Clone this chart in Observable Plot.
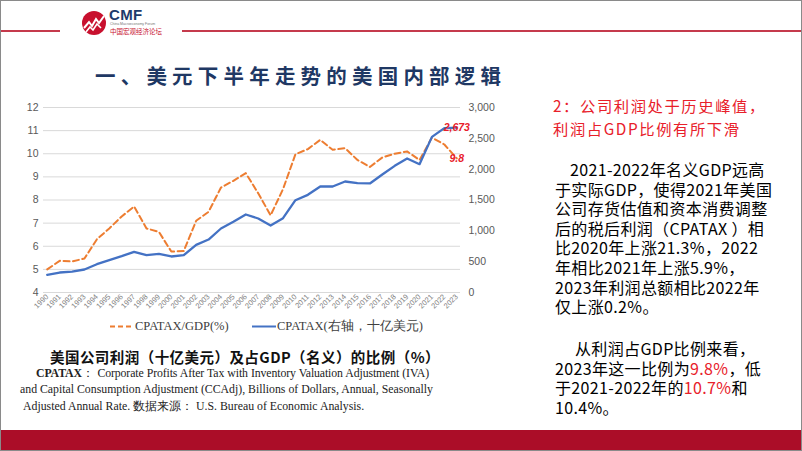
<!DOCTYPE html>
<html><head><meta charset="utf-8">
<script src="https://cdn.jsdelivr.net/npm/d3@7"></script>
<script src="https://cdn.jsdelivr.net/npm/@observablehq/plot@0.6"></script>
<style>
html,body{margin:0;padding:0;background:#fff;}
#slide{position:relative;width:802px;height:451px;overflow:hidden;background:#fff;font-family:"Noto Sans CJK SC","Noto Sans",sans-serif;}
.abs{position:absolute;white-space:nowrap;}
#frame{position:absolute;left:0;top:0;width:800px;height:449px;border:1px solid #8a8a8a;pointer-events:none;z-index:10;}
.red{color:#e8202a;}
.just{text-align:justify;text-align-last:justify;}
</style></head><body>
<div id="slide">
  <div class="abs" style="left:0;top:30px;width:60px;height:1.6px;background:#c53a4c;"></div>
  <div class="abs" style="left:182px;top:30px;width:620px;height:1.6px;background:#c53a4c;"></div>
  <svg class="abs" style="left:80px;top:10px;" width="28" height="28" viewBox="0 0 28 28">
    <circle cx="14" cy="13" r="12" fill="#c8102e"/>
    <polyline points="4,18 9,12 12,16 16,9 19,13 24,6" fill="none" stroke="#fff" stroke-width="2"/>
    <polyline points="6,22 10,17 13,20 17,14 21,18" fill="none" stroke="#fff" stroke-width="1.6"/>
  </svg>
  <div class="abs" style="left:109px;top:7.5px;font:700 15px 'Liberation Sans',Arial,sans-serif;color:#1d3b6b;letter-spacing:0.3px;line-height:14px;">CMF</div>
  <div class="abs" style="left:110px;top:23px;font:3.5px 'Liberation Sans',Arial,sans-serif;color:#777;line-height:3.5px;">China Macroeconomy Forum</div>
  <div class="abs" style="left:110px;top:28.3px;font:6.5px 'Noto Sans CJK SC',sans-serif;color:#c8102e;line-height:7px;">中国宏观经济论坛</div>

  <div class="abs" style="left:95px;top:60px;font:700 20.5px 'Noto Sans CJK SC',sans-serif;color:#1f3864;letter-spacing:5.2px;line-height:30px;">一、美元下半年走势的美国内部逻辑</div>

  <div id="chart" class="abs" style="left:0;top:95px;"></div>

  <div id="legend" class="abs" style="left:0;top:317px;font:12.5px 'Liberation Serif','Times New Roman',serif;color:#404040;line-height:18px;"></div>

  <div class="abs" style="left:50px;top:346px;font:700 14.5px 'Noto Sans CJK SC',sans-serif;color:#111;line-height:22px;letter-spacing:0.45px;">美国公司利润（十亿美元）及占GDP（名义）的比例（%）</div>
  <div class="abs" style="left:20px;top:365px;width:409px;font:11.8px 'Liberation Serif','Times New Roman',serif;color:#222;line-height:16.3px;white-space:normal;">
    <div class="just" style="padding-left:16px;letter-spacing:-0.12px;white-space:nowrap;"><b>CPATAX</b>： Corporate Profits After Tax with Inventory Valuation Adjustment (IVA)</div>
    <div class="just" style="white-space:nowrap;">and Capital Consumption Adjustment (CCAdj), Billions of Dollars, Annual, Seasonally</div>
    <div style="padding-left:3px;white-space:nowrap;">Adjusted Annual Rate. 数据来源： U.S. Bureau of Economic Analysis.</div>
  </div>

  <div class="abs red" style="left:553px;top:94px;font:15.3px 'Noto Sans CJK SC',sans-serif;line-height:23px;letter-spacing:1.6px;">
    <div>2：公司利润处于历史峰值，</div>
    <div>利润占GDP比例有所下滑</div>
  </div>

  <div class="abs" style="left:555px;top:160px;font:16px 'Noto Sans CJK SC',sans-serif;color:#000;line-height:19.6px;letter-spacing:0.35px;">
    <div style="padding-left:15px;">2021-2022年名义GDP远高</div>
    <div>于实际GDP，使得2021年美国</div>
    <div>公司存货估值和资本消费调整</div>
    <div>后的税后利润（CPATAX ）相</div>
    <div>比2020年上涨21.3%，2022</div>
    <div>年相比2021年上涨5.9%，</div>
    <div>2023年利润总额相比2022年</div>
    <div>仅上涨0.2%。</div>
  </div>
  <div class="abs" style="left:555px;top:339px;font:16px 'Noto Sans CJK SC',sans-serif;color:#000;line-height:19.6px;letter-spacing:0.35px;">
    <div style="padding-left:20px;">从利润占GDP比例来看，</div>
    <div>2023年这一比例为<span class="red">9.8%</span>，低</div>
    <div>于2021-2022年的<span class="red">10.7%</span>和</div>
    <div>10.4%。</div>
  </div>

  <div class="abs" style="left:0;top:430px;width:802px;height:21px;background:#ab0d28;"></div>
  <div id="frame"></div>
</div>
<script>
const years = [1990,1991,1992,1993,1994,1995,1996,1997,1998,1999,2000,2001,2002,2003,2004,2005,2006,2007,2008,2009,2010,2011,2012,2013,2014,2015,2016,2017,2018,2019,2020,2021,2022,2023];
const ratioPct = [5.0,5.37,5.34,5.47,6.3,6.77,7.29,7.72,6.77,6.62,5.77,5.79,7.1,7.49,8.54,8.83,9.16,8.29,7.34,8.47,9.98,10.2,10.6,10.17,10.24,9.73,9.43,9.84,10.0,10.1,9.73,10.7,10.4,9.8];
const profitsBn = [286,324,340,373,459,524,589,659,605,627,584,605,773,859,1038,1146,1265,1200,1086,1205,1497,1584,1719,1719,1800,1773,1768,1914,2054,2173,2081,2524,2665,2673];
const leftTicks = [4,5,6,7,8,9,10,11,12];
const rightTicks = [0,500,1000,1500,2000,2500,3000];
const seriesNames = ["CPATAX/GDP(%)","CPATAX(右轴，十亿美元)"];
const colors = ["#ed7d31","#4472c4"];

const rightMax = 3000, leftMin = 4, leftMax = 12;
const toLeft = v => leftMin + v * (leftMax - leftMin) / rightMax;
const fromLeft = y => (y - leftMin) * rightMax / (leftMax - leftMin);
const data = years.map((year, i) => ({year, ratio: ratioPct[i], profit: profitsBn[i]}));
const last = [data[data.length - 1]];

const chart = Plot.plot({
  width: 520, height: 225,
  marginLeft: 43, marginRight: 60, marginTop: 12, marginBottom: 28,
  x: {domain: [1989.7, 2023.3], axis: null},
  y: {domain: [leftMin, leftMax], axis: null},
  style: {fontFamily: "'Liberation Sans', Arial, sans-serif", color: "#595959", background: "transparent", overflow: "visible"},
  marks: [
    Plot.gridY(leftTicks, {stroke: "#d9d9d9", strokeOpacity: 1, strokeWidth: 1}),
    Plot.axisY(leftTicks, {anchor: "left", label: null, tickSize: 0, tickPadding: 5, fontSize: 10.5, fill: "#595959"}),
    Plot.axisY(rightTicks.map(toLeft), {anchor: "right", label: null, tickSize: 0, tickPadding: 8, fontSize: 10.5, fill: "#595959",
      tickFormat: d => d3.format(",")(Math.round(fromLeft(d)))}),
    Plot.axisX(years, {anchor: "bottom", label: null, tickSize: 0, tickPadding: 3, tickRotate: -45, fontSize: 7.5, fill: "#7f7f7f",
      tickFormat: d => String(d)}),
    Plot.lineY(data, {x: "year", y: "ratio", stroke: colors[0], strokeWidth: 2, strokeDasharray: "6,3.5"}),
    Plot.lineY(data, {x: "year", y: d => toLeft(d.profit), stroke: colors[1], strokeWidth: 2.3}),
    Plot.text(last, {x: "year", y: d => toLeft(d.profit), text: d => d3.format(",")(d.profit),
      fill: "#e8202a", fontStyle: "italic", fontWeight: "bold", fontSize: 10.5}),
    Plot.text(last, {x: "year", y: "ratio", text: d => d.ratio.toFixed(1),
      fill: "#e8202a", fontStyle: "italic", fontWeight: "bold", fontSize: 10.5})
  ]
});
document.getElementById("chart").appendChild(chart);

const legend = document.getElementById("legend");
legend.innerHTML =
  `<span style="position:absolute;left:110px;top:0;"><svg width="22" height="18" style="vertical-align:top"><line x1="0" x2="22" y1="9.5" y2="9.5" stroke="${colors[0]}" stroke-width="2" stroke-dasharray="5,3"/></svg></span>` +
  `<span style="position:absolute;left:135px;top:0;">${seriesNames[0]}</span>` +
  `<span style="position:absolute;left:252px;top:0;"><svg width="24" height="18" style="vertical-align:top"><line x1="0" x2="24" y1="9.5" y2="9.5" stroke="${colors[1]}" stroke-width="2"/></svg></span>` +
  `<span style="position:absolute;left:277px;top:0;">${seriesNames[1]}</span>`;
</script>
</body></html>
